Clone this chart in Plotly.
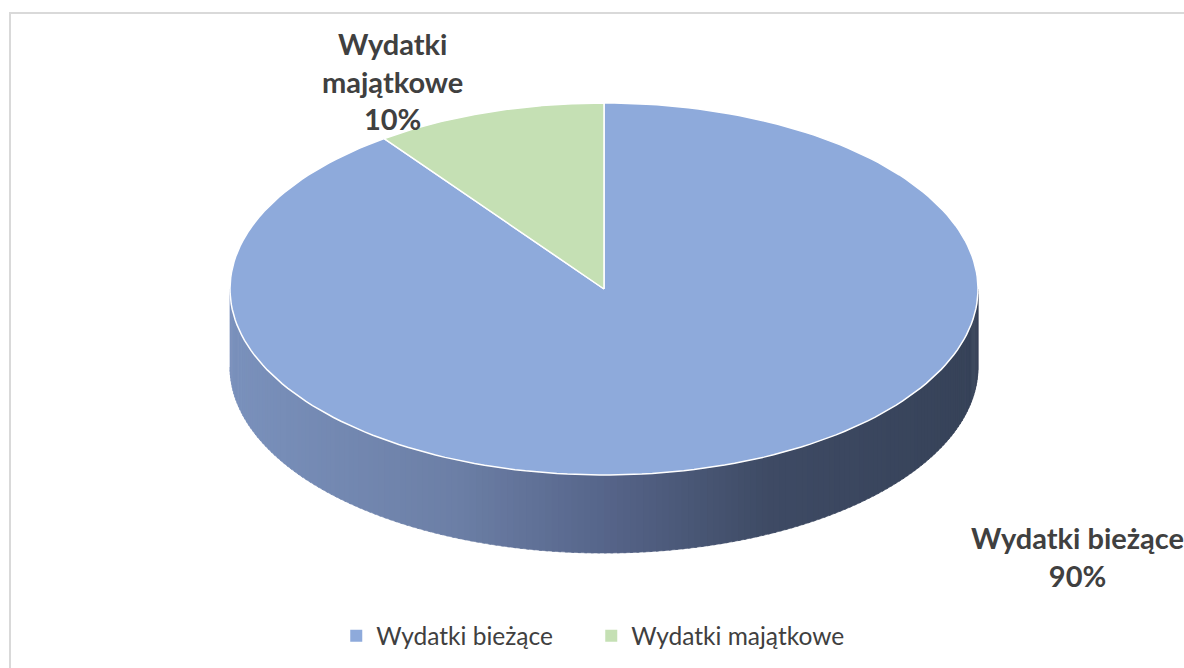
import numpy as np
import plotly.graph_objects as go

# ---- data ----
categories = ["Wydatki bieżące", "Wydatki majątkowe"]
values = [90, 10]
label_texts = ["Wydatki bieżące<br>90%", "Wydatki<br>majątkowe<br>10%"]

# ---- styling / geometry (layout constants) ----
W, H = 1184, 668
cx, cy, ra, rb, depth = 604, 289, 374, 186, 78
top_colors = ["#8eaadb", "#c5e0b4"]
side_stops = [(0.0, (122, 145, 188)), (0.3, (108, 127, 166)), (0.5, (86, 101, 138)),
              (0.72, (62, 74, 100)), (1.0, (54, 66, 88))]
text_color = "#404040"
font_family = "Lato, Open Sans, sans-serif"


def side_color(f):
    for (f0, c0), (f1, c1) in zip(side_stops[:-1], side_stops[1:]):
        if f0 <= f <= f1:
            t = (f - f0) / (f1 - f0)
            c = [round(a + (b - a) * t) for a, b in zip(c0, c1)]
            return "rgb(%d,%d,%d)" % tuple(c)
    return "rgb(%d,%d,%d)" % side_stops[-1][1]


def ex(t):
    return cx + ra * np.cos(np.radians(t))


def ey(t):
    return cy - rb * np.sin(np.radians(t))


total = sum(values)
fig = go.Figure()

# slice angular ranges, clockwise from 12 o'clock
spans = []
start = 90.0
for v in values:
    end = start - 360.0 * v / total
    spans.append((start, end))
    start = end

# side walls (visible front half: angle in [-180, 0] modulo 360)
for i, (s, e) in enumerate(spans):
    lo, hi = e, s
    for shift in (-360, 0, 360):
        a0 = max(lo + shift, -180)
        a1 = min(hi + shift, 0)
        if a1 <= a0:
            continue
        n = int(np.ceil((a1 - a0) / 1.0))
        edges = np.linspace(a0, a1, n + 1)
        for k in range(n):
            t0, t1 = edges[k], edges[k + 1]
            ts = np.linspace(t0, t1 + 0.4 if k < n - 1 else t1, 4)
            xs = list(ex(ts)) + list(ex(ts[::-1]))
            ys = list(ey(ts)) + list(ey(ts[::-1]) + depth)
            f = (ex((t0 + t1) / 2) - (cx - ra)) / (2 * ra)
            col = side_color(f)
            fig.add_trace(go.Scatter(x=xs, y=ys, fill="toself", fillcolor=col,
                                     mode="lines", line=dict(width=0.6, color=col),
                                     hoverinfo="skip", showlegend=False))

# top faces
for i, (s, e) in enumerate(spans):
    ts = np.linspace(s, e, 200)
    xs = [cx] + list(ex(ts)) + [cx]
    ys = [cy] + list(ey(ts)) + [cy]
    fig.add_trace(go.Scatter(x=xs, y=ys, fill="toself", fillcolor=top_colors[i],
                             mode="lines", line=dict(width=1.5, color="white"),
                             name=categories[i], hoverinfo="name", showlegend=False))

# legend entries
for i, c in enumerate(categories):
    fig.add_trace(go.Scatter(x=[None], y=[None], mode="markers",
                             marker=dict(symbol="square", size=11, color=top_colors[i]),
                             name=c, showlegend=True))

# data labels
label_pos = [(1077, 556), (392, 81)]
for i, txt in enumerate(label_texts):
    fig.add_annotation(x=label_pos[i][0], y=label_pos[i][1], text=txt, showarrow=False,
                       xref="x", yref="y", align="center",
                       font=dict(size=29, color=text_color, family=font_family, weight="bold"))

# chart border
fig.add_shape(type="rect", xref="x", yref="y", x0=10, y0=13, x1=1200, y1=700,
              line=dict(color="#d9d9d9", width=2), layer="below")

fig.update_layout(
    width=W, height=H, margin=dict(l=0, r=0, t=0, b=0),
    paper_bgcolor="white", plot_bgcolor="white",
    xaxis=dict(range=[0, W], visible=False, fixedrange=True),
    yaxis=dict(range=[H, 0], visible=False, fixedrange=True),
    showlegend=True,
    legend=dict(orientation="h", x=0.284, y=0.048, xanchor="left", yanchor="middle",
                font=dict(size=24.5, color=text_color, family=font_family),
                itemsizing="constant", entrywidth=210, entrywidthmode="pixels",
                bgcolor="rgba(0,0,0,0)"),
)

fig.write_html("out.html", config={"displayModeBar": False},
               post_script="document.body.style.margin='0';document.body.style.overflow='hidden';")
